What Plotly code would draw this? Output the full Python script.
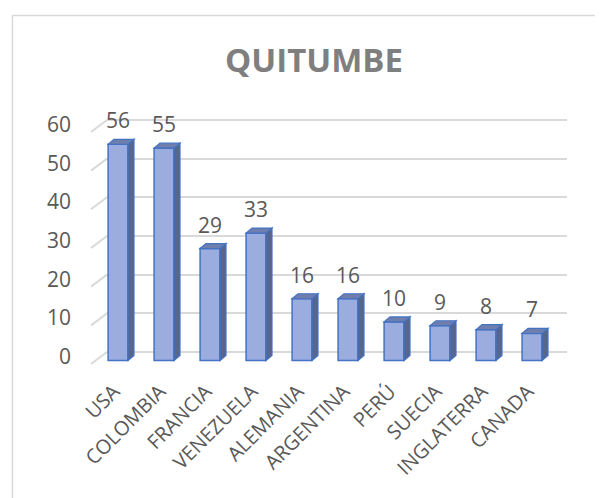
import plotly.graph_objects as go

countries = ["USA", "COLOMBIA", "FRANCIA", "VENEZUELA", "ALEMANIA",
             "ARGENTINA", "PERÚ", "SUECIA", "INGLATERRA", "CANADA"]
values = [56, 55, 29, 33, 16, 16, 10, 9, 8, 7]
y_ticks = [0, 10, 20, 30, 40, 50, 60]

TEXT = "#595959"
GRID = "#d9d9d9"
EDGE = "#4472c4"
FRONT = "#9badde"
SIDE = "#56668f"
TOP = "#6e7fae"
FONT = "Open Sans"

# the page body adds an 8px margin, so the figure is drawn 8px smaller
OFF = 8
W, H = 603 - OFF, 498 - OFF

x_idx = list(range(len(countries)))
depth = 1.3  # bar depth in data units (about 5 px up)

fig = go.Figure()

# invisible helper so the back-wall grid axis is drawn
fig.add_trace(go.Scatter(x=x_idx, y=values, yaxis="y2", mode="markers",
                         marker=dict(opacity=0), hoverinfo="skip", showlegend=False))

fig.add_trace(go.Bar(
    x=x_idx, y=values, width=0.43,
    marker=dict(color=FRONT, line=dict(color=EDGE, width=1.5)),
    hoverinfo="x+y", showlegend=False,
))

shapes = []
for i, v in zip(x_idx, values):
    # right side face
    shapes.append(dict(
        type="path", xref="x", yref="y", xsizemode="pixel", xanchor=i,
        path=f"M 10,0 L 16,{depth} L 16,{v + depth} L 10,{v} Z",
        fillcolor=SIDE, line=dict(color=EDGE, width=1.2),
    ))
    # top face
    shapes.append(dict(
        type="path", xref="x", yref="y", xsizemode="pixel", xanchor=i,
        path=f"M -10,{v} L -4,{v + depth} L 16,{v + depth} L 10,{v} Z",
        fillcolor=TOP, line=dict(color=EDGE, width=1.2),
    ))

# left wall edge ticks
for t in y_ticks:
    shapes.append(dict(
        type="line", xref="paper", yref="y2", xsizemode="pixel", ysizemode="pixel",
        xanchor=0, yanchor=t, x0=-16, x1=0, y0=-12, y1=0,
        line=dict(color=GRID, width=2), layer="below",
    ))

# chart border (right/bottom edges fall outside the window)
shapes.append(dict(type="rect", xref="paper", yref="paper",
                   x0=-0.2054, x1=1.3, y0=-0.6, y1=1.3635,
                   line=dict(color=GRID, width=1.5), layer="below"))

annotations = [
    dict(x=i, y=v, xref="x", yref="y", text=str(v), showarrow=False,
         yanchor="middle", yshift=24, font=dict(family=FONT, size=21, color=TEXT))
    for i, v in zip(x_idx, values)
]

fig.update_layout(
    width=W, height=H,
    margin=dict(l=99, r=36, t=102, b=128),
    paper_bgcolor="white", plot_bgcolor="white",
    title=dict(text="<b>QUITUMBE</b>", x=(314 - OFF) / W, xanchor="center",
               y=1 - (60 - OFF) / H, yanchor="middle",
               font=dict(family=FONT, size=33, color="#7f7f7f")),
    xaxis=dict(range=[-0.239, 9.761], tickvals=x_idx, ticktext=countries,
               tickangle=-45, showgrid=False, zeroline=False, showline=False,
               ticks="", ticklabelstandoff=5, ticklabelshift=-4,
               tickfont=dict(family=FONT, size=20, color=TEXT)),
    yaxis=dict(range=[-2.46, 64.9], tickvals=y_ticks, showgrid=False,
               zeroline=False, showline=False, ticks="", ticklabelstandoff=35,
               ticklabelshift=-4,
               tickfont=dict(family=FONT, size=21, color=TEXT)),
    yaxis2=dict(range=[-4.65, 62.58], overlaying="y", tickvals=y_ticks,
                showticklabels=False, showgrid=True, gridcolor=GRID, gridwidth=2,
                zeroline=False, showline=False),
    shapes=shapes,
    annotations=annotations,
    bargap=0.5,
)

fig.write_html("out.html")
